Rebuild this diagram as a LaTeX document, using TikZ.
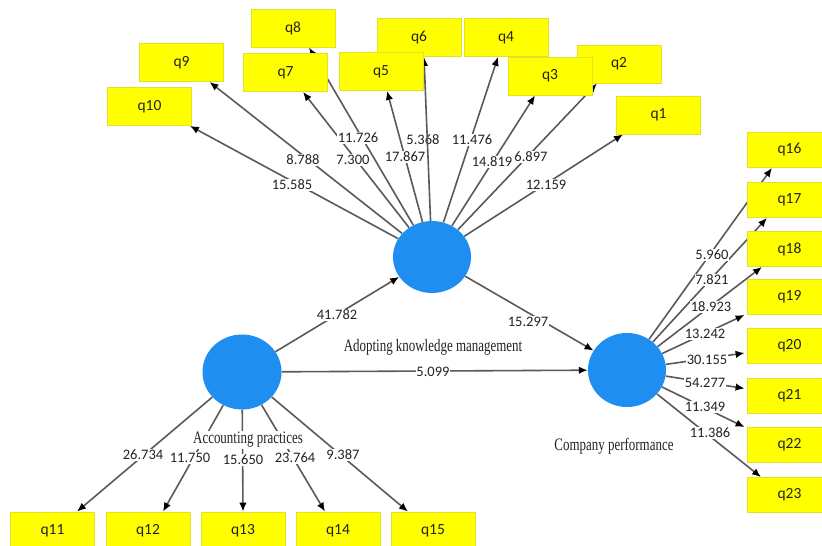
\documentclass[tikz,border=0pt]{standalone}
\usepackage{fontspec}
\usetikzlibrary{arrows.meta,shapes.geometric}
\newfontfamily\numfont{Carlito}
\newfontfamily\lvfont[FakeStretch=0.74]{Liberation Serif}
\definecolor{boxyel}{RGB}{255,255,0}
\definecolor{boxedge}{RGB}{225,225,40}
\definecolor{lvblue}{RGB}{30,143,240}
\definecolor{lngray}{RGB}{90,90,90}
\definecolor{txt}{RGB}{35,35,35}
\pgfdeclarelayer{paper}
\pgfdeclarelayer{lines}
\pgfdeclarelayer{labels}
\pgfsetlayers{paper,lines,labels,main}
\begin{document}
\begin{tikzpicture}[x=1pt,y=-1pt,
 ind/.style={rectangle,fill=boxyel,draw=boxedge,line width=0.8pt,minimum width=84pt,minimum height=38pt,inner sep=0pt,font=\numfont\fontsize{15.5}{15.5}\selectfont,text=txt},
 indr/.style={ind,minimum width=85pt,minimum height=35pt},
 lv/.style={ellipse,fill=lvblue,draw=none,inner sep=0pt},
 ln/.style={draw=lngray,line width=1.6pt,-{Latex[length=9pt,width=7.5pt,color=black]}},
 num/.style={fill=white,inner sep=0.8pt,text=txt,font=\numfont\fontsize{14.5}{14.5}\selectfont},
 lvlab/.style={fill=white,inner sep=1pt,text=txt,font=\lvfont\fontsize{17.5}{17.5}\selectfont}]
\useasboundingbox (0,0) rectangle (822,546);
\begin{pgfonlayer}{paper}
\fill[white] (0,0) rectangle (822,546);
\end{pgfonlayer}
\clip (0,0) rectangle (822,546);

% latent variables
\node[lv,minimum width=78pt,minimum height=72pt] (km) at (432,257) {};
\node[lv,minimum width=79pt,minimum height=75pt] (ap) at (242,372) {};
\node[lv,minimum width=78pt,minimum height=74pt] (cp) at (627,370) {};

% indicator boxes (back row first)
\node[ind] (q2) at (619,64) {q2};
\node[ind] (q4) at (506,37.5) {q4};
\node[ind] (q6) at (419,37.5) {q6};
\node[ind] (q8) at (293,28) {q8};
\node[ind] (q1) at (658.5,115) {q1};
\node[ind] (q3) at (550,76) {q3};
\node[ind] (q5) at (381,71.5) {q5};
\node[ind] (q7) at (285.5,72.5) {q7};
\node[ind] (q9) at (181.5,62.5) {q9};
\node[ind] (q10) at (149.5,106.5) {q10};

\node[ind] (q11) at (52.5,531) {q11};
\node[ind] (q12) at (148,531) {q12};
\node[ind] (q13) at (243,531) {q13};
\node[ind] (q14) at (338,531) {q14};
\node[ind] (q15) at (433,531) {q15};

\node[indr] (q16) at (789.5,150) {q16};
\node[indr] (q17) at (789.5,200) {q17};
\node[indr] (q18) at (789.5,249) {q18};
\node[indr] (q19) at (789.5,297) {q19};
\node[indr] (q20) at (789.5,346) {q20};
\node[indr] (q21) at (789.5,395.5) {q21};
\node[indr] (q22) at (789.5,445) {q22};
\node[indr] (q23) at (789.5,495) {q23};

\begin{pgfonlayer}{lines}
% structural paths
\draw[ln] (ap) -- (km);
\draw[ln] (km) -- (cp);
\draw[ln] (ap) -- (cp);
% Adopting knowledge management indicators
\draw[ln] (km) -- ([xshift=-35.5pt]q1.south);
\draw[ln] (km) -- ([xshift=-22pt]q2.south);
\draw[ln] (km) -- ([xshift=-15pt]q3.south);
\draw[ln] (km) -- ([xshift=-8pt]q4.south);
\draw[ln] (km) -- ([xshift=6pt]q5.south);
\draw[ln] (km) -- ([xshift=17.5pt]q7.south);
\draw[ln] (km) -- ([xshift=16pt]q8.south);
\draw[ln] (km) -- ([xshift=28pt]q9.south);
\draw[ln] (km) -- ([xshift=-2pt]q10.south east);
% Accounting practices indicators
\draw[ln] (ap) -- ([xshift=24.5pt]q11.north);
\draw[ln] (ap) -- ([xshift=15pt]q12.north);
\draw[ln] (ap) -- (q13.north);
\draw[ln] (ap) -- ([xshift=-13pt]q14.north);
\draw[ln] (ap) -- ([xshift=-25pt]q15.north);
% Company performance indicators
\draw[ln] (cp) -- ([xshift=-17.5pt]q16.south);
\draw[ln] (cp) -- ([xshift=-22.5pt]q17.south);
\draw[ln] (cp) -- ([xshift=-27.5pt]q18.south);
\draw[ln] (cp) -- ([xshift=-2pt]q19.south west);
\draw[ln] (cp) -- ([xshift=-2pt,yshift=-7pt]q20.west);
\draw[ln] (cp) -- ([xshift=-2pt,yshift=7pt]q21.west);
\draw[ln] (cp) -- ([xshift=-2pt]q22.north west);
\draw[ln] (cp) -- ([xshift=-28.5pt]q23.north);
\end{pgfonlayer}

\begin{pgfonlayer}{labels}
\node[num] (s1) at (337,315) {41.782};
\node[num] (s2) at (528,322) {15.297};
\node[num] (s3) at (433,372) {5.099};

\node[num] (t10) at (292,185) {15.585};
\node[num] (t9) at (303,160) {8.788};
\node[num] (t7) at (353,160) {7.300};
\node[num] (t8) at (358,138) {11.726};
\node[num] (t5) at (405,157) {17.867};
\node[num] (t6) at (423,140) {5.368};
\node[num] (t4) at (472,140) {11.476};
\node[num] (t3) at (492,162) {14.819};
\node[num] (t2) at (531,157) {6.897};
\node[num] (t1) at (546,185) {12.159};

\node[num] (b11) at (143,455) {26.734};
\node[num] (b12) at (190,458) {11.750};
\node[num] (b13) at (243,460) {15.650};
\node[num] (b14) at (295,458) {23.764};
\node[num] (b15) at (343,455) {9.387};

\node[num] (r16) at (712,255) {5.960};
\node[num] (r17) at (712,280) {7.821};
\node[num] (r18) at (711,307) {18.923};
\node[num] (r19) at (705,334) {13.242};
\node[num] (r20) at (707,360) {30.155};
\node[num] (r21) at (705,383) {54.277};
\node[num] (r22) at (705,407) {11.349};
\node[num] (r23) at (710,433) {11.386};

\node[lvlab] (kmlab) at (433,347) {Adopting knowledge management};
\node[lvlab] (aplab) at (248,440) {Accounting practices};
\node[lvlab] (cplab) at (614,446) {Company performance};

\draw[ln] (km) -- ([xshift=5pt]q6.south);
\end{pgfonlayer}
\end{tikzpicture}
\end{document}
